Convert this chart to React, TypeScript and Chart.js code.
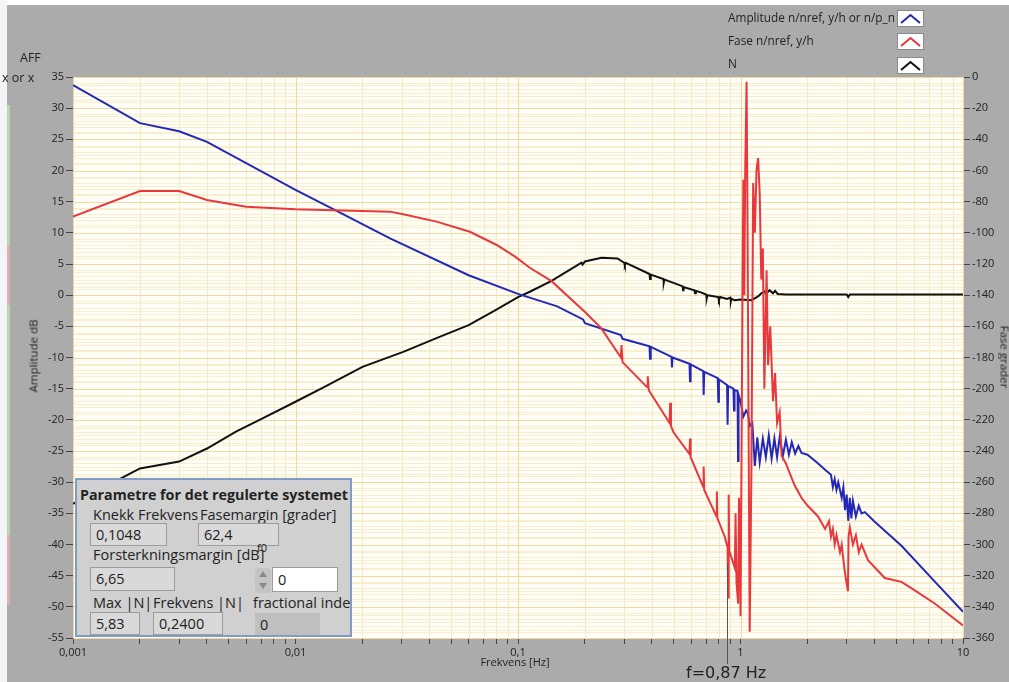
import React, { useEffect, useRef } from 'react';
import { Chart, registerables } from 'chart.js';

Chart.register(...registerables);

const FONT = "'Open Sans', 'Noto Sans', sans-serif";

// ---------- data ----------
// Amplitude n/nref, y/h or n/p_n  (dB, left axis)
const ampFreq = [0.001, 0.002, 0.003, 0.004, 0.01, 0.015, 0.0266, 0.06, 0.1, 0.15, 0.196, 0.2, 0.29, 0.295, 0.39, 0.392, 0.395, 0.49, 0.492, 0.495, 0.59, 0.593, 0.597, 0.68, 0.683, 0.687, 0.79, 0.795, 0.8, 0.87, 0.875, 0.88, 0.93, 0.935, 0.94, 0.97, 0.975, 0.98, 1.0, 1.03, 1.06, 1.08, 1.1, 1.13, 1.16, 1.19, 1.22, 1.26, 1.3, 1.34, 1.38, 1.42, 1.46, 1.5, 1.55, 1.6, 1.65, 1.7, 1.76, 1.82, 1.88, 2.0, 2.2, 2.4, 2.55, 2.6, 2.65, 2.7, 2.75, 2.85, 2.9, 2.95, 3.0, 3.05, 3.1, 3.15, 3.2, 3.3, 3.4, 3.5, 3.62, 4.0, 5.29, 7.49, 10];
const ampDb = [33.7, 27.6, 26.3, 24.6, 16.9, 13.7, 9.1, 3.2, 0.2, -1.8, -3.9, -4.5, -6.4, -7.0, -8.2, -10.2, -8.3, -9.9, -11.6, -10.0, -11.0, -13.8, -11.1, -12.2, -16.0, -12.3, -13.3, -17.1, -13.5, -14.4, -20.8, -14.6, -15.0, -18.5, -15.2, -15.4, -26.6, -16.0, -17.0, -19.5, -18.5, -19.0, -21.0, -20.5, -27.4, -22.8, -26.8, -23.0, -26.0, -22.5, -26.2, -23.0, -26.0, -22.8, -25.8, -23.2, -25.6, -23.6, -25.4, -24.2, -25.3, -25.6, -26.8, -28.0, -28.8, -30.8, -29.5, -31.2, -30.0, -32.5, -30.8, -34.5, -32.0, -36.2, -32.5, -35.8, -33.0, -35.5, -33.8, -35.0, -34.8, -36.3, -40.2, -46.0, -50.8];

// Fase n/nref, y/h  (grader, right axis)
const phaseFreq = [0.001, 0.002, 0.003, 0.004, 0.006, 0.01, 0.0266, 0.0305, 0.043, 0.0608, 0.0802, 0.097, 0.113, 0.1415, 0.2, 0.237, 0.29, 0.292, 0.295, 0.38, 0.383, 0.387, 0.48, 0.483, 0.487, 0.5, 0.59, 0.593, 0.597, 0.68, 0.683, 0.687, 0.78, 0.783, 0.787, 0.85, 0.875, 0.88, 0.885, 0.89, 0.943, 0.95, 0.96, 0.976, 0.985, 0.995, 1.0, 1.01, 1.02, 1.03, 1.04, 1.05, 1.065, 1.075, 1.085, 1.1, 1.12, 1.14, 1.16, 1.18, 1.2, 1.22, 1.24, 1.26, 1.28, 1.3, 1.31, 1.33, 1.36, 1.4, 1.43, 1.46, 1.5, 1.53, 1.6, 1.64, 1.75, 1.88, 2.0, 2.23, 2.4, 2.5, 2.55, 2.6, 2.65, 2.7, 2.8, 2.85, 2.94, 3.0, 3.04, 3.06, 3.1, 3.2, 3.3, 3.4, 3.5, 3.74, 4.45, 5.29, 6.0, 7.49, 10];
const phaseDeg = [-89.6, -73.2, -73.2, -78.9, -83.2, -84.9, -86.4, -88.1, -92.8, -99.3, -107.8, -115.3, -122.4, -131, -150.8, -161.3, -180, -172, -183, -199, -192, -201, -222, -209, -224, -228, -242, -232, -244, -263, -250, -265, -282, -266, -283, -295, -302, -334, -268, -304, -315, -280, -325, -338, -270, -300, -346, -250, -150, -66, -140, -60, -3, -90, -200, -356, -250, -68, -100, -60, -52, -75, -130, -110, -200, -150, -124, -185, -160, -208, -190, -222, -215, -243, -248, -252, -262, -270, -275, -282, -290, -285, -295, -290, -300, -294, -305, -300, -317, -325, -330, -295, -289, -300, -294, -305, -300, -310, -321.5, -324, -329, -338, -352];

// N (dB, left axis)
const nFreq = [0.001, 0.0017, 0.002, 0.003, 0.004, 0.0054, 0.007, 0.01, 0.0135, 0.02, 0.0305, 0.043, 0.06, 0.08, 0.1, 0.113, 0.1415, 0.193, 0.195, 0.2, 0.237, 0.28, 0.3, 0.302, 0.305, 0.39, 0.392, 0.395, 0.45, 0.452, 0.455, 0.507, 0.55, 0.552, 0.555, 0.62, 0.625, 0.63, 0.668, 0.7, 0.705, 0.71, 0.794, 0.8, 0.81, 0.87, 0.9, 0.905, 0.91, 0.943, 1.0, 1.12, 1.2, 1.24, 1.286, 1.3, 1.35, 1.4, 1.43, 1.47, 1.6, 3.0, 3.05, 3.1, 10];
const nDb = [-33.5, -29.1, -27.8, -26.7, -24.6, -21.9, -19.9, -17.1, -14.7, -11.5, -9.1, -6.9, -4.8, -2.3, -0.3, 0.55, 2.3, 5.2, 4.9, 5.4, 6.0, 5.9, 5.2, 4.8, 5.2, 3.4, 2.6, 3.3, 2.6, 2.0, 2.5, 1.9, 1.4, 0.8, 1.3, 0.8, 0.3, 0.7, 0.4, 0.1, -0.5, 0.0, -0.3, -0.8, -0.3, -0.6, -0.4, -1.0, -0.6, -0.8, -0.7, -0.8, -0.2, 0.3, 0.6, 0.2, 0.8, 0.3, 0.7, 0.2, 0.1, 0.1, -0.3, 0.1, 0.1];

const seriesNames = ['Amplitude n/nref, y/h or n/p_n', 'Fase n/nref, y/h', 'N'];
const seriesColors = ['#2329b6', '#e8383d', '#111111'];

const xTickValues = [0.001, 0.002, 0.003, 0.004, 0.005, 0.006, 0.007, 0.008, 0.009, 0.01, 0.02, 0.03, 0.04, 0.05, 0.06, 0.07, 0.08, 0.09, 0.1, 0.2, 0.3, 0.4, 0.5, 0.6, 0.7, 0.8, 0.9, 1, 2, 3, 4, 5, 6, 7, 8, 9, 10];
const xMajorValues = [0.001, 0.01, 0.1, 1, 10];
const xMajorLabels = ['0,001', '0,01', '0,1', '1', '10'];

const Y_MIN = -55, Y_MAX = 35, Y_STEP = 5;
const Y1_MIN = -360, Y1_MAX = 0, Y1_STEP = 20;

const markerFreq = 0.87;
const markerTopDb = -43;
const markerLabel = 'f=0,87 Hz';

const params = {
  title: 'Parametre for det regulerte systemet',
  knekk: '0,1048',
  fasemargin: '62,4',
  forsterkning: '6,65',
  maxN: '5,83',
  frekvensN: '0,2400',
};

// ---------- styles ----------
const PLOT_BG = '#fffef6';
const MINOR_H = '#f7efcf';
const MINOR_V = '#f4ebc6';
const MAJOR = '#efd8a2';
const PAGE_GRAY = '#ababab';

const gridPlugin = {
  id: 'labviewGrid',
  beforeDatasetsDraw(chart: any) {
    const { ctx, chartArea: a, scales } = chart;
    const x = scales.x, y = scales.y, y1 = scales.y1;
    ctx.save();
    ctx.fillStyle = PLOT_BG;
    ctx.fillRect(a.left, a.top, a.right - a.left, a.bottom - a.top);
    ctx.lineWidth = 1;
    const hline = (py: number, c: string) => {
      const p = Math.round(py) + 0.5;
      ctx.strokeStyle = c;
      ctx.beginPath(); ctx.moveTo(a.left, p); ctx.lineTo(a.right, p); ctx.stroke();
    };
    const vline = (px: number, c: string) => {
      const p = Math.round(px) + 0.5;
      ctx.strokeStyle = c;
      ctx.beginPath(); ctx.moveTo(p, a.top); ctx.lineTo(p, a.bottom); ctx.stroke();
    };
    for (let v = Y_MIN; v <= Y_MAX; v += 1) if (v % Y_STEP !== 0) hline(y.getPixelForValue(v), MINOR_H);
    for (let v = Y1_MIN; v <= Y1_MAX; v += 5) if (v % Y1_STEP !== 0) hline(y1.getPixelForValue(v), MINOR_H);
    xTickValues.forEach((v) => { if (!xMajorValues.includes(v)) vline(x.getPixelForValue(v), MINOR_V); });
    for (let v = Y_MIN; v <= Y_MAX; v += Y_STEP) hline(y.getPixelForValue(v), MAJOR);
    xMajorValues.forEach((v) => vline(x.getPixelForValue(v), MAJOR));
    ctx.restore();
  },
  afterDatasetsDraw(chart: any) {
    const { ctx, chartArea: a, scales } = chart;
    const px = Math.round(scales.x.getPixelForValue(markerFreq)) + 0.5;
    ctx.save();
    ctx.strokeStyle = '#555';
    ctx.lineWidth = 1;
    ctx.beginPath();
    ctx.moveTo(px, scales.y.getPixelForValue(markerTopDb));
    ctx.lineTo(px, a.bottom + 26);
    ctx.stroke();
    ctx.restore();
  },
};

const tickFont = { family: FONT, size: 11 };

const Chevron = ({ color, top }: { color: string; top: number }) => (
  <div style={{ position: 'absolute', left: 897, top, width: 27, height: 17, background: '#fff', border: '1px solid #8a8a8a', boxSizing: 'border-box' }}>
    <svg width="25" height="15" style={{ display: 'block' }}>
      <polyline points="3,12 12.5,4 22,12" fill="none" stroke={color} strokeWidth="2" />
    </svg>
  </div>
);

const abs = (s: React.CSSProperties): React.CSSProperties => ({ position: 'absolute', whiteSpace: 'nowrap', ...s });

const PF = 14.5;

const Box = ({ left, top, width, height, text, bg }: any) => (
  <div style={abs({ left, top, width, height, background: bg || '#d9d9d9', border: '1px solid #9c9c9c', boxSizing: 'border-box', fontSize: PF, lineHeight: `${height - 2}px`, paddingLeft: 5, color: '#222' })}>{text}</div>
);

export default function App() {
  const canvasRef = useRef<HTMLCanvasElement>(null);

  useEffect(() => {
    const canvas = canvasRef.current!;
    const mk = (fs: number[], vs: number[]) => fs.map((f, i) => ({ x: f, y: vs[i] }));
    const chart = new Chart(canvas, {
      type: 'line',
      data: {
        datasets: [
          { label: seriesNames[1], data: mk(phaseFreq, phaseDeg), yAxisID: 'y1', borderColor: seriesColors[1], borderWidth: 2, pointRadius: 0, tension: 0, order: 0 },
          { label: seriesNames[0], data: mk(ampFreq, ampDb), yAxisID: 'y', borderColor: seriesColors[0], borderWidth: 2, pointRadius: 0, tension: 0, order: 1 },
          { label: seriesNames[2], data: mk(nFreq, nDb), yAxisID: 'y', borderColor: seriesColors[2], borderWidth: 2, pointRadius: 0, tension: 0, order: 2 },
        ],
      },
      options: {
        animation: false,
        responsive: false,
        devicePixelRatio: 1,
        parsing: false as any,
        layout: { padding: { top: 77, left: 0, right: 0, bottom: 0 } },
        plugins: { legend: { display: false }, title: { display: false }, tooltip: { enabled: false } },
        events: [],
        scales: {
          x: {
            type: 'logarithmic',
            min: 0.001,
            max: 10,
            afterBuildTicks: (s: any) => { s.ticks = xTickValues.map((v) => ({ value: v })); },
            afterFit: (s: any) => { s.height = 44; },
            ticks: {
              autoSkip: false,
              maxRotation: 0,
              minRotation: 0,
              padding: 2,
              color: '#222',
              font: tickFont,
              callback: (v: any) => {
                const i = xMajorValues.findIndex((m) => Math.abs(m - Number(v)) / m < 1e-6);
                return i >= 0 ? xMajorLabels[i] : '';
              },
            },
            grid: { drawOnChartArea: false, drawTicks: true, tickLength: 6, color: '#444', tickColor: '#444' },
            border: { display: false },
          },
          y: {
            type: 'linear',
            position: 'left',
            min: Y_MIN,
            max: Y_MAX,
            afterFit: (s: any) => { s.width = 73; },
            ticks: { stepSize: Y_STEP, padding: 2, color: '#222', font: tickFont },
            grid: { drawOnChartArea: false, drawTicks: true, tickLength: 7, color: '#444', tickColor: '#444' },
            border: { display: false },
          },
          y1: {
            type: 'linear',
            position: 'right',
            min: Y1_MIN,
            max: Y1_MAX,
            afterFit: (s: any) => { s.width = 46; },
            ticks: { stepSize: Y1_STEP, padding: 2, color: '#222', font: tickFont },
            grid: { drawOnChartArea: false, drawTicks: true, tickLength: 7, color: '#444', tickColor: '#444' },
            border: { display: false },
          },
        },
      } as any,
      plugins: [gridPlugin],
    });
    return () => chart.destroy();
  }, []);

  const txt: React.CSSProperties = { fontSize: 11, color: '#222' };
  const lg: React.CSSProperties = { fontSize: 11.8, color: '#222' };
  const pl: React.CSSProperties = { fontSize: PF, lineHeight: '17px' };

  return (
    <div style={{ position: 'fixed', left: 0, top: 0, width: 1009, height: 682, background: PAGE_GRAY, overflow: 'hidden', fontFamily: FONT }}>
      <div style={abs({ left: 0, top: 0, width: 1009, height: 5, background: '#fff' })} />
      <div style={abs({ left: 0, top: 0, width: 7, height: 682, background: '#f3f5f8' })} />
      <div style={abs({ left: 7, top: 105, width: 3, height: 140, background: '#b9d7ab' })} />
      <div style={abs({ left: 7, top: 245, width: 3, height: 60, background: '#ddb0b0' })} />
      <div style={abs({ left: 7, top: 305, width: 3, height: 230, background: '#b9d7ab' })} />
      <div style={abs({ left: 7, top: 535, width: 3, height: 70, background: '#ddb0b0' })} />

      <canvas ref={canvasRef} width={1009} height={682} style={{ position: 'absolute', left: 0, top: 0, width: 1009, height: 682 }} />

      <div style={abs({ fontSize: 12.5, color: '#222', left: 20, top: 49 })}>AFF</div>
      <div style={abs({ fontSize: 12.5, color: '#222', left: 2, top: 69 })}>x or x</div>
      <div style={abs({ ...txt, fontSize: 11.5, left: 33, top: 356, transform: 'translate(-50%, -50%) rotate(-90deg)' })}>Amplitude dB</div>
      <div style={abs({ ...txt, fontSize: 11.5, left: 1005, top: 357, transform: 'translate(-50%, -50%) rotate(90deg)' })}>Fase grader</div>
      <div style={abs({ ...txt, left: 515, top: 654, transform: 'translateX(-50%)' })}>Frekvens [Hz]</div>
      <div style={abs({ left: 686, top: 664, fontSize: 16, lineHeight: '18px', fontFamily: "'DejaVu Sans', sans-serif", color: '#222' })}>{markerLabel}</div>

      <div style={abs({ ...lg, left: 728, top: 9 })}>{seriesNames[0]}</div>
      <div style={abs({ ...lg, left: 728, top: 32 })}>{seriesNames[1]}</div>
      <div style={abs({ ...lg, left: 728, top: 55 })}>{seriesNames[2]}</div>
      <Chevron color={seriesColors[0]} top={10} />
      <Chevron color={seriesColors[1]} top={33} />
      <Chevron color={seriesColors[2]} top={57} />

      <div style={abs({ left: 75, top: 478, width: 277, height: 159, background: '#d0d0d0', border: '2px solid #7f9cc4', boxSizing: 'border-box', overflow: 'hidden', color: '#222' })}>
        <div style={abs({ left: 3, top: 6, fontSize: 14.3, fontWeight: 'bold', lineHeight: '17px' })}>{params.title}</div>
        <div style={abs({ ...pl, left: 16, top: 26 })}>Knekk Frekvens</div>
        <div style={abs({ ...pl, left: 123, top: 26 })}>Fasemargin [grader]</div>
        <Box left={13} top={43} width={77} height={23} text={params.knekk} />
        <Box left={121} top={43} width={81} height={23} text={params.fasemargin} />
        <div style={abs({ ...pl, left: 16, top: 66 })}>Forsterkningsmargin [dB]</div>
        <div style={abs({ left: 180, top: 62, fontSize: 11, lineHeight: '12px' })}>f0</div>
        <Box left={13} top={87} width={85} height={24} text={params.forsterkning} />
        <div style={abs({ left: 178, top: 88, width: 16, height: 25, background: '#c4c4c4', borderRadius: 4 })}>
          <div style={abs({ left: 4, top: 3, width: 0, height: 0, borderLeft: '4px solid transparent', borderRight: '4px solid transparent', borderBottom: '6px solid #8a8a8a' })} />
          <div style={abs({ left: 4, top: 15, width: 0, height: 0, borderLeft: '4px solid transparent', borderRight: '4px solid transparent', borderTop: '6px solid #8a8a8a' })} />
        </div>
        <Box left={195} top={87} width={66} height={25} text="0" bg="#ffffff" />
        <div style={abs({ ...pl, left: 16, top: 114 })}>Max |N|</div>
        <div style={abs({ ...pl, left: 76, top: 114 })}>Frekvens |N|</div>
        <div style={abs({ ...pl, left: 176, top: 114 })}>fractional inde</div>
        <Box left={13} top={132} width={50} height={23} text={params.maxN} />
        <Box left={76} top={132} width={70} height={23} text={params.frekvensN} />
        <div style={abs({ left: 178, top: 133, width: 65, height: 26, background: '#bfbfbf', fontSize: PF, lineHeight: '24px', paddingLeft: 5, boxSizing: 'border-box' })}>0</div>
      </div>
    </div>
  );
}
